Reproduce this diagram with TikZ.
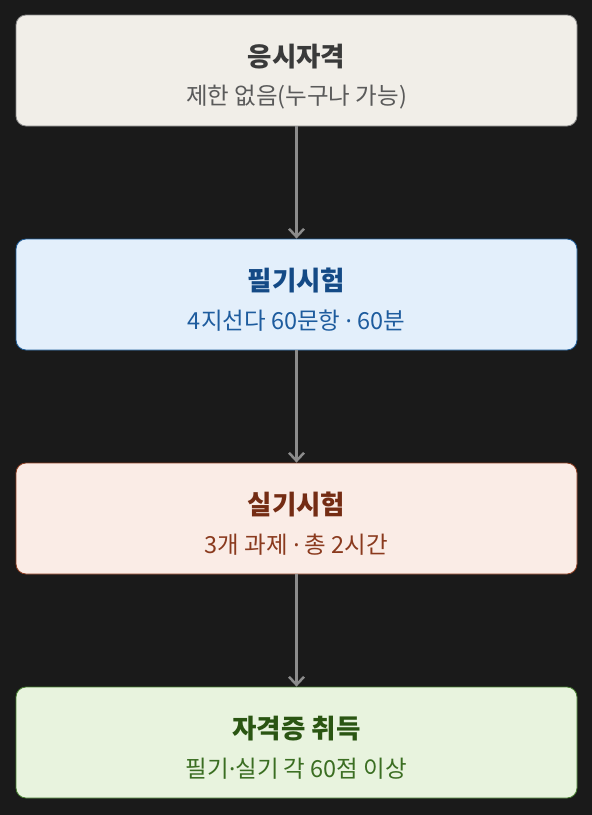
\documentclass[tikz,border=0pt]{standalone}
\usepackage{fontspec}
\setmainfont{Noto Sans CJK KR}
\newfontfamily\dotfont{Noto Sans}
\newcommand{\mdot}{{\dotfont ·}}
\usetikzlibrary{arrows.meta}
\definecolor{bg}{HTML}{1A1A1A}
\definecolor{fa}{HTML}{F1EEE8}\definecolor{da}{HTML}{8A8A8A}\definecolor{ta}{HTML}{3A3A3A}\definecolor{sa}{HTML}{5A5A5A}
\definecolor{fb}{HTML}{E3EFFB}\definecolor{db}{HTML}{1F5D99}\definecolor{tb}{HTML}{144A86}\definecolor{sb}{HTML}{1E5C9E}
\definecolor{fc}{HTML}{FAECE6}\definecolor{dc}{HTML}{8E3E22}\definecolor{tc}{HTML}{742C14}\definecolor{sc}{HTML}{8A3A1E}
\definecolor{fd}{HTML}{E8F3DE}\definecolor{dd}{HTML}{467E30}\definecolor{td}{HTML}{2A5512}\definecolor{sd}{HTML}{3B6E22}
\definecolor{arr}{HTML}{8C8C8C}
\tikzset{
  box/.style={draw, line width=0.8pt, rounded corners=10pt, minimum width=561pt, minimum height=111pt, inner sep=0pt},
  ttl/.style={font=\bfseries\fontsize{26.5}{30}\selectfont},
  sub/.style={font=\fontsize{23.5}{27}\selectfont},
  conn/.style={draw=arr, line width=2.5pt, -{Straight Barb[length=8pt,width=15pt,line width=2.5pt]}}
}
\begin{document}
\begin{tikzpicture}[x=1pt,y=-1pt]
\fill[bg] (0,0) rectangle (592,815);
\useasboundingbox (0,0) rectangle (592,815);
\node[box, fill=fa, draw=da] (b1) at (296.5,70.5) {};
\node[box, fill=fb, draw=db] (b2) at (296.5,294.5) {};
\node[box, fill=fc, draw=dc] (b3) at (296.5,518.5) {};
\node[box, fill=fd, draw=dd] (b4) at (296.5,742.5) {};
\node[ttl, text=ta] (t1) at (296.5,57) {응시자격};
\node[sub, text=sa] (s1) at (296.5,97) {제한 없음(누구나 가능)};
\node[ttl, text=tb] (t2) at (296.5,281) {필기시험};
\node[sub, text=sb] (s2) at (296.5,321) {4지선다 60문항 \mdot{} 60분};
\node[ttl, text=tc] (t3) at (296.5,505) {실기시험};
\node[sub, text=sc] (s3) at (296.5,545) {3개 과제 \mdot{} 총 2시간};
\node[ttl, text=td] (t4) at (296.5,729) {자격증 취득};
\node[sub, text=sd] (s4) at (296.5,769) {필기\mdot{}실기 각 60점 이상};
\draw[conn] (b1.south) -- (b2.north);
\draw[conn] (b2.south) -- (b3.north);
\draw[conn] (b3.south) -- (b4.north);
\end{tikzpicture}
\end{document}
